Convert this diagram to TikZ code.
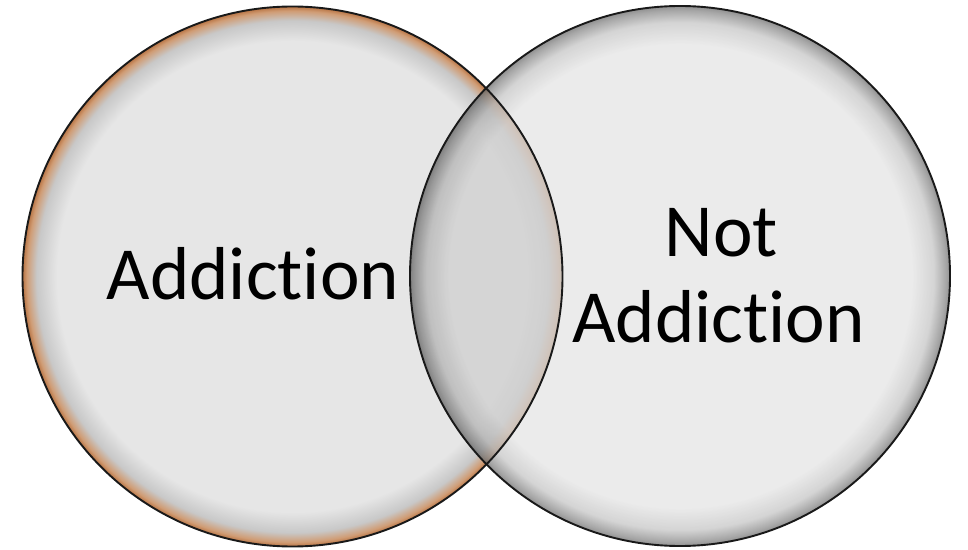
\documentclass[tikz,border=0pt]{standalone}
\usepackage{fontspec}
\setmainfont{Carlito}[Ligatures={NoCommon}]
\definecolor{cin}{HTML}{E6E6E6}
\definecolor{orgl}{HTML}{D09C74}
\definecolor{orgd}{HTML}{B87444}
\definecolor{gmid}{HTML}{C8C8C8}
\definecolor{gedge}{HTML}{8E8E8E}
\pgfdeclareradialshading{glowL}{\pgfpoint{0bp}{0bp}}{color(0bp)=(cin); color(21.8bp)=(cin); color(23.7bp)=(gmid); color(24.6bp)=(orgl); color(25bp)=(orgd); color(50bp)=(orgd)}
\pgfdeclareradialshading{glowR}{\pgfpoint{0bp}{0bp}}{color(0bp)=(cin); color(21.4bp)=(cin); color(23.5bp)=(gmid); color(24.6bp)=(gedge); color(25bp)=(gedge!80!black); color(50bp)=(gedge!80!black)}
\tikzset{
  venn/.style={circle, inner sep=0pt, minimum size=540pt},
  rim/.style={draw=black!90, line width=1.9pt},
  lbl/.style={font=\fontsize{75}{86}\selectfont, text=black, anchor=base, inner sep=0pt}
}
\begin{document}
\begin{tikzpicture}[x=1pt,y=1pt]
\useasboundingbox (0,0) rectangle (968,549);
\node[venn, shade, shading=glowL] (L) at (292.5,272.5) {};
\node[venn, shade, shading=glowR, fill opacity=0.78] (R) at (680,273) {};
\begin{scope}
  \clip (292.5,272.5) circle (270);
  \fill[black, opacity=0.07] (680,273) circle (270);
\end{scope}
\node[venn, rim] (Lrim) at (L.center) {};
\node[venn, rim] (Rrim) at (R.center) {};
\node[lbl] (addL) at (253,249) {Addiction};
\node[lbl] (notR) at (721.5,292) {Not};
\node[lbl] (addR) at (718.5,206) {Addiction};
\end{tikzpicture}
\end{document}
